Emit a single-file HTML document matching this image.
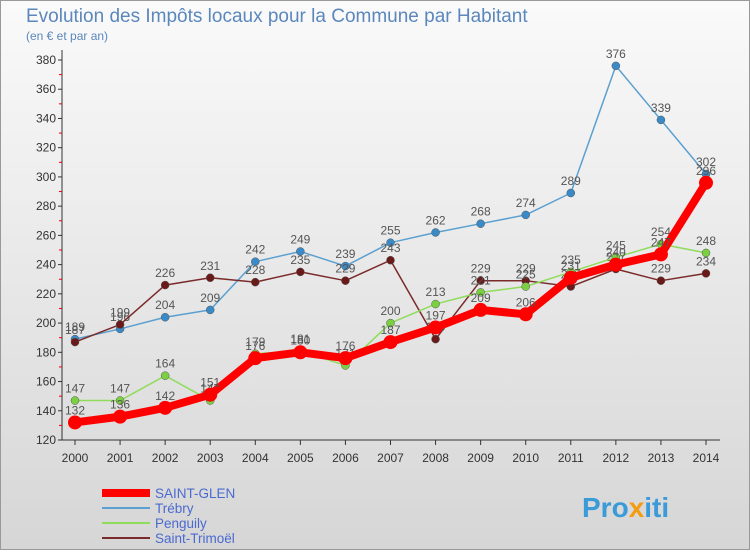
<!DOCTYPE html>
<html><head><meta charset="utf-8"><style>
body{margin:0;width:750px;height:550px;overflow:hidden;font-family:"Liberation Sans",sans-serif}
</style></head><body>
<svg id="c" width="750" height="550" xmlns="http://www.w3.org/2000/svg">
<defs><linearGradient id="bg" x1="0" y1="0" x2="0" y2="1"><stop offset="0" stop-color="#fafafa"/><stop offset="1" stop-color="#d6d6d6"/></linearGradient></defs>
<rect x="0.5" y="0.5" width="749" height="549" fill="url(#bg)" stroke="#999"/>
<text x="26" y="22" font-size="19" fill="#5b87bd">Evolution des Impôts locaux pour la Commune par Habitant</text>
<text x="26" y="40" font-size="12" fill="#5b87bd">(en € et par an)</text>
<g id="axes"></g><g id="series"></g><g id="legend"></g>
<text x="582" y="517" font-size="28" font-weight="bold" fill="#3a9bd8">Pro<tspan fill="#f39c12">x</tspan>iti</text>
</svg>
<script>
const years=[2000,2001,2002,2003,2004,2005,2006,2007,2008,2009,2010,2011,2012,2013,2014];
const yTicks=[120,140,160,180,200,220,240,260,280,300,320,340,360,380];
const saintGlen=[132,136,142,151,176,180,176,187,197,209,206,231,240,247,296];
const trebry=[189,196,204,209,242,249,239,255,262,268,274,289,376,339,302];
const penguily=[147,147,164,147,179,181,171,200,213,221,225,235,245,254,248];
const saintTrimoel=[187,199,226,231,228,235,229,243,189,229,229,225,237,229,234];
const NS="http://www.w3.org/2000/svg";
function X(i){return 75+i*(706-75)/(years.length-1);}
function Y(v){return 440-(v-120)*(380/260);}
function mk(t,a,p){const e=document.createElementNS(NS,t);for(const k in a)e.setAttribute(k,a[k]);p.appendChild(e);return e;}
const ax=document.getElementById('axes');
let l=mk('line',{x1:62,y1:50,x2:62,y2:440,stroke:'#333'},ax);

l=mk('line',{x1:62,y1:440,x2:720,y2:440,stroke:'#333'},ax);

yTicks.forEach(v=>{const t=mk('text',{x:56,y:Y(v)+4,'font-size':12,'text-anchor':'end',fill:'#333'},ax);t.textContent=v;

mk('line',{x1:58,y1:Y(v),x2:62,y2:Y(v),stroke:'#333'},ax);
if(v<380)mk('line',{x1:59,y1:Y(v+10),x2:62,y2:Y(v+10),stroke:'#e00'},ax);});
years.forEach((y,i)=>{const t=mk('text',{x:X(i),y:462,'font-size':12,'text-anchor':'middle',fill:'#333'},ax);t.textContent=y;

mk('line',{x1:X(i),y1:440,x2:X(i),y2:445,stroke:'#333'},ax);});
const S=document.getElementById('series');
const defs=[{d:trebry,c:'#5ba0d0',f:'#3a8ac8',w:1.5,r:4,n:'trebry'},{d:saintTrimoel,c:'#7a2a2a',f:'#6b1a1a',w:1.5,r:4,n:'saint-trimoel'},{d:penguily,c:'#8fdc5a',f:'#7ad040',w:1.5,r:4,n:'penguily'},{d:saintGlen,c:'#ff0000',f:'#ff0000',w:8,r:7,n:'saint-glen'}];
defs.forEach(s=>{const g=mk('g',{},S);
const p=mk('polyline',{points:s.d.map((v,i)=>X(i)+','+Y(v)).join(' '),fill:'none',stroke:s.c,'stroke-width':s.w,'stroke-linejoin':'round'},g);

s.d.forEach((v,i)=>{const c=mk('circle',{cx:X(i),cy:Y(v),r:s.r,fill:s.f,stroke:s.w>2?'none':'#555','stroke-width':0.5},g);

const t=mk('text',{x:X(i),y:Y(v)-8,'font-size':12,'text-anchor':'middle',fill:'#555'},g);t.textContent=v;
});});
const L=document.getElementById('legend');
[['SAINT-GLEN','#ff0000',8],['Trébry','#5ba0d0',2],['Penguily','#8fdc5a',2],['Saint-Trimoël','#7a2a2a',2]].forEach((e,i)=>{
const y=493+i*15;const g=mk('g',{},L);
mk('line',{x1:102,y1:y,x2:150,y2:y,stroke:e[1],'stroke-width':e[2]},g);
const t=mk('text',{x:155,y:y+5,'font-size':13.5,fill:'#4a6ad0'},g);t.textContent=e[0];});
</script>
</body></html>
